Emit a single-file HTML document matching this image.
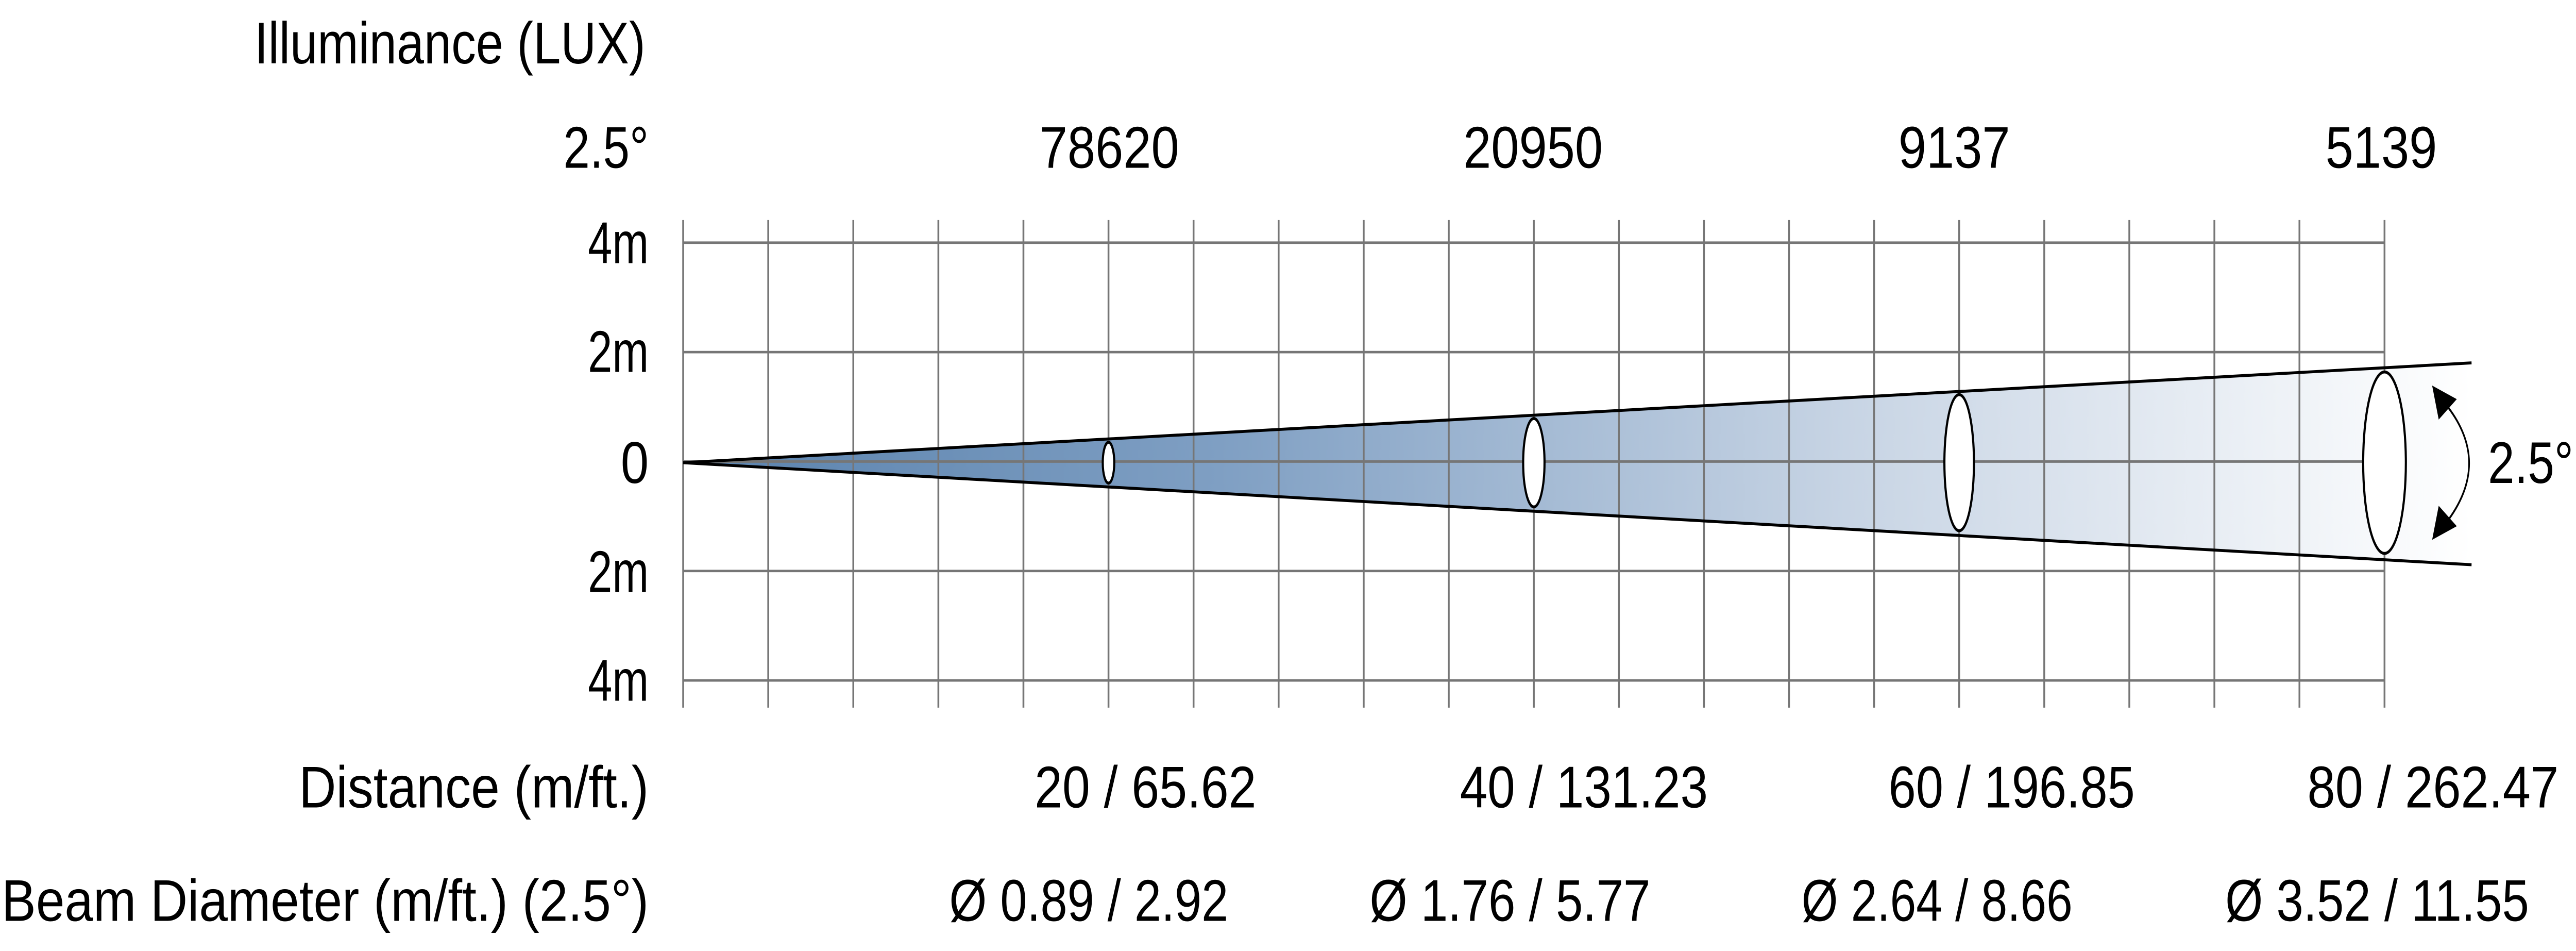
<!DOCTYPE html>
<html><head><meta charset="utf-8"><style>html,body{margin:0;padding:0;background:#fff;width:100%;height:100%;overflow:hidden}svg{display:block;position:fixed;left:0;top:0;width:100vw;height:100vh}</style></head>
<body>
<svg viewBox="0 0 1568.6 419.3" preserveAspectRatio="none" xmlns="http://www.w3.org/2000/svg" font-family="'Liberation Sans', sans-serif" font-size="26" fill="#000">
<defs>
<linearGradient id="g" x1="416" y1="0" x2="1505" y2="0" gradientUnits="userSpaceOnUse">
<stop offset="0" stop-color="#5a82ad"/>
<stop offset="0.3" stop-color="#7f9fc3"/>
<stop offset="0.65" stop-color="#c7d4e4"/>
<stop offset="1" stop-color="#ffffff"/>
</linearGradient>
</defs>
<polygon points="416,204 1505,160 1505,249" fill="url(#g)"/>
<g stroke="#767676" stroke-width="1.1">
<line x1="416" y1="107" x2="1452" y2="107"/>
<line x1="416" y1="155.25" x2="1452" y2="155.25"/>
<line x1="416" y1="203.5" x2="1452" y2="203.5"/>
<line x1="416" y1="251.75" x2="1452" y2="251.75"/>
<line x1="416" y1="300" x2="1452" y2="300"/>
<line x1="416" y1="97" x2="416" y2="312"/><line x1="467.8" y1="97" x2="467.8" y2="312"/><line x1="519.6" y1="97" x2="519.6" y2="312"/><line x1="571.4" y1="97" x2="571.4" y2="312"/><line x1="623.2" y1="97" x2="623.2" y2="312"/><line x1="675" y1="97" x2="675" y2="312"/><line x1="726.8" y1="97" x2="726.8" y2="312"/><line x1="778.6" y1="97" x2="778.6" y2="312"/><line x1="830.4" y1="97" x2="830.4" y2="312"/><line x1="882.2" y1="97" x2="882.2" y2="312"/><line x1="934" y1="97" x2="934" y2="312"/><line x1="985.8" y1="97" x2="985.8" y2="312"/><line x1="1037.6" y1="97" x2="1037.6" y2="312"/><line x1="1089.4" y1="97" x2="1089.4" y2="312"/><line x1="1141.2" y1="97" x2="1141.2" y2="312"/><line x1="1193" y1="97" x2="1193" y2="312"/><line x1="1244.8" y1="97" x2="1244.8" y2="312"/><line x1="1296.6" y1="97" x2="1296.6" y2="312"/><line x1="1348.4" y1="97" x2="1348.4" y2="312"/><line x1="1400.2" y1="97" x2="1400.2" y2="312"/><line x1="1452" y1="97" x2="1452" y2="312"/>
</g>
<g stroke="#000" stroke-width="1.3" fill="none">
<line x1="416" y1="204" x2="1505" y2="160"/>
<line x1="416" y1="204" x2="1505" y2="249"/>
</g>
<g stroke="#000" stroke-width="1.3" fill="#fff">
<ellipse cx="675" cy="204" rx="3.5" ry="9"/>
<ellipse cx="934" cy="204" rx="6.5" ry="19.5"/>
<ellipse cx="1193" cy="204" rx="9" ry="30"/>
<ellipse cx="1452" cy="204" rx="13" ry="40"/>
</g>
<path d="M1489,178 Q1518,204 1489,231" stroke="#000" stroke-width="1" fill="none"/>
<polygon points="1481,170 1496,176 1485,185" fill="#000"/>
<polygon points="1481,238 1496,232 1485,223" fill="#000"/>
<g lengthAdjust="spacingAndGlyphs">
<text x="1515" y="213" textLength="52" lengthAdjust="spacingAndGlyphs">2.5°</text>
<text x="155" y="28" textLength="238" lengthAdjust="spacingAndGlyphs">Illuminance (LUX)</text>
<text x="343" y="74" textLength="52" lengthAdjust="spacingAndGlyphs">2.5°</text>
<text x="358" y="116" textLength="37" lengthAdjust="spacingAndGlyphs">4m</text>
<text x="358" y="164" textLength="37" lengthAdjust="spacingAndGlyphs">2m</text>
<text x="378" y="213" textLength="17" lengthAdjust="spacingAndGlyphs">0</text>
<text x="358" y="261" textLength="37" lengthAdjust="spacingAndGlyphs">2m</text>
<text x="358" y="309" textLength="37" lengthAdjust="spacingAndGlyphs">4m</text>
<text x="182" y="356" textLength="213" lengthAdjust="spacingAndGlyphs">Distance (m/ft.)</text>
<text x="1" y="406" textLength="394" lengthAdjust="spacingAndGlyphs">Beam Diameter (m/ft.) (2.5°)</text>
<text x="633" y="74" textLength="85" lengthAdjust="spacingAndGlyphs">78620</text>
<text x="891" y="74" textLength="85" lengthAdjust="spacingAndGlyphs">20950</text>
<text x="1156" y="74" textLength="68" lengthAdjust="spacingAndGlyphs">9137</text>
<text x="1416" y="74" textLength="68" lengthAdjust="spacingAndGlyphs">5139</text>
<text x="630" y="356" textLength="135" lengthAdjust="spacingAndGlyphs">20 / 65.62</text>
<text x="889" y="356" textLength="151" lengthAdjust="spacingAndGlyphs">40 / 131.23</text>
<text x="1150" y="356" textLength="150" lengthAdjust="spacingAndGlyphs">60 / 196.85</text>
<text x="1405" y="356" textLength="153" lengthAdjust="spacingAndGlyphs">80 / 262.47</text>
<text x="578" y="406" textLength="170" lengthAdjust="spacingAndGlyphs">Ø 0.89 / 2.92</text>
<text x="834" y="406" textLength="171" lengthAdjust="spacingAndGlyphs">Ø 1.76 / 5.77</text>
<text x="1097" y="406" textLength="165" lengthAdjust="spacingAndGlyphs">Ø 2.64 / 8.66</text>
<text x="1355" y="406" textLength="185" lengthAdjust="spacingAndGlyphs">Ø 3.52 / 11.55</text>
</g>
</svg>
</body></html>
